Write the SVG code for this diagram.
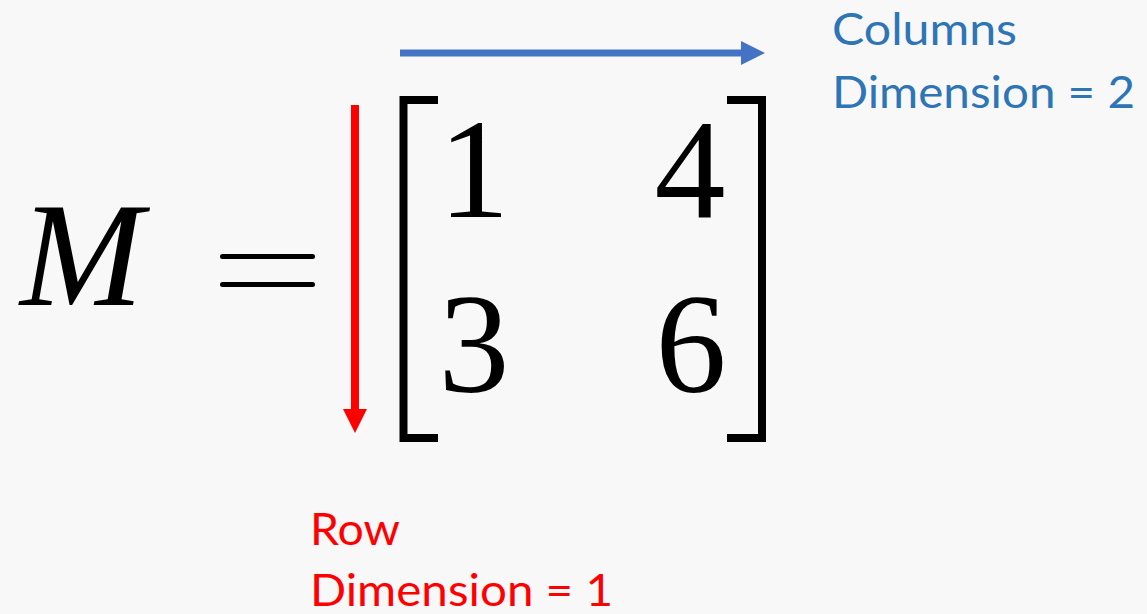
<svg xmlns="http://www.w3.org/2000/svg" width="1147" height="614" viewBox="0 0 1147 614">
<style>
.math{font-family:"Liberation Serif","DejaVu Serif",serif;fill:#000}
.lbl{font-family:Lato,"Open Sans",sans-serif;font-size:44px}
.blue{fill:#2E75B6}
.red{fill:#FF0000}
</style>
<defs>
<marker id="hb" markerUnits="userSpaceOnUse" markerWidth="24" markerHeight="24" refX="0" refY="12" orient="auto" viewBox="0 0 24 24"><path d="M0,0 L24,12 L0,24 Z" fill="#4472C4"/></marker>
<marker id="hr" markerUnits="userSpaceOnUse" markerWidth="24" markerHeight="24" refX="0" refY="12" orient="auto" viewBox="0 0 24 24"><path d="M0,0 L24,12 L0,24 Z" fill="#FF0000"/></marker>
</defs>
<rect width="1147" height="614" fill="#F8F8F8"/>
<g id="connectors">
<line x1="400" y1="53" x2="741" y2="53" stroke="#4472C4" stroke-width="7" marker-end="url(#hb)"/>
<line x1="355" y1="105" x2="355" y2="409" stroke="#FF0000" stroke-width="8" marker-end="url(#hr)"/>
</g>
<g id="equation">
<text class="math" x="20" y="305" font-size="148" font-style="italic">M</text>
<rect x="220" y="254" width="95" height="5" rx="2.5" fill="#000"/>
<rect x="220" y="282" width="95" height="5" rx="2.5" fill="#000"/>
</g>
<g id="matrix">
<path d="M438,100 H403.5 V438 H438" fill="none" stroke="#000" stroke-width="8"/>
<path d="M727,100 H762 V438 H727" fill="none" stroke="#000" stroke-width="8"/>
<text class="math" x="474" y="217" font-size="142" text-anchor="middle">1</text>
<text class="math" x="690" y="217" font-size="142" text-anchor="middle">4</text>
<text class="math" x="474" y="392" font-size="142" text-anchor="middle">3</text>
<text class="math" x="691" y="392" font-size="142" text-anchor="middle">6</text>
</g>
<g id="columns-label">
<text class="lbl blue" x="832" y="45" textLength="185" lengthAdjust="spacingAndGlyphs">Columns</text>
<text class="lbl blue" x="832" y="108" textLength="303" lengthAdjust="spacingAndGlyphs">Dimension = 2</text>
</g>
<g id="row-label">
<text class="lbl red" x="310" y="545" textLength="90" lengthAdjust="spacingAndGlyphs">Row</text>
<text class="lbl red" x="310" y="606" textLength="303" lengthAdjust="spacingAndGlyphs">Dimension = 1</text>
</g>
</svg>
